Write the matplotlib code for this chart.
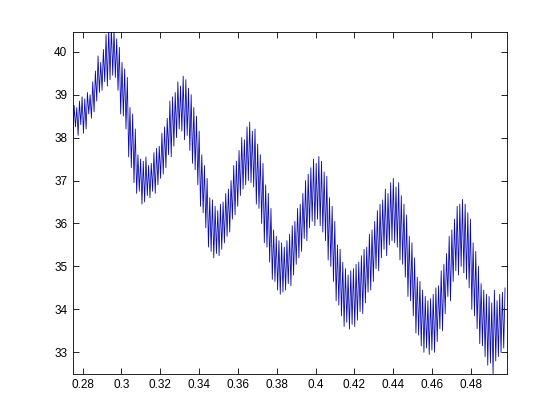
import numpy as np
import matplotlib
matplotlib.use('Agg')
import matplotlib.pyplot as plt
from matplotlib.ticker import FormatStrFormatter

t_start = 0.275
t_step = 0.0006846
pairs = [
    (38.00, 38.75), (38.25, 38.70), (38.05, 38.85),
    (38.30, 38.95), (38.10, 38.90), (38.20, 39.05),
    (38.55, 39.00), (38.45, 39.30), (38.60, 39.55),
    (38.85, 39.90), (39.05, 39.75), (39.10, 40.05),
    (39.30, 40.40), (39.20, 40.55), (39.35, 40.60),
    (39.45, 40.50), (39.40, 40.30), (39.10, 40.10),
    (38.55, 39.75), (38.50, 39.60), (38.20, 39.40),
    (37.55, 38.70), (37.30, 38.55), (36.95, 38.20),
    (36.70, 37.60), (36.75, 37.50), (36.45, 37.45),
    (36.50, 37.55), (36.65, 37.35), (36.60, 37.40),
    (36.75, 37.65), (36.70, 37.75), (36.90, 37.80),
    (37.05, 38.10), (37.15, 38.25), (37.30, 38.45),
    (37.60, 38.85), (37.55, 38.95), (37.80, 39.05),
    (38.00, 39.30), (38.20, 39.20), (38.15, 39.43),
    (37.95, 39.35), (38.05, 39.15), (37.70, 39.00),
    (37.40, 38.70), (37.25, 38.50), (36.90, 38.15),
    (36.40, 37.60), (36.25, 37.35), (35.90, 37.05),
    (35.45, 36.60), (35.35, 36.55), (35.20, 36.40),
    (35.30, 36.30), (35.25, 36.45), (35.40, 36.50),
    (35.55, 36.70), (35.70, 36.80), (35.80, 37.00),
    (36.10, 37.35), (36.20, 37.45), (36.40, 37.70),
    (36.65, 38.00), (36.80, 37.95), (36.90, 38.25),
    (37.00, 38.36), (36.95, 38.15), (36.85, 38.20),
    (36.45, 37.85), (36.35, 37.60), (36.00, 37.40),
    (35.55, 36.90), (35.45, 36.70), (35.10, 36.35),
    (34.70, 35.85), (34.65, 35.70), (34.45, 35.60),
    (34.35, 35.55), (34.40, 35.45), (34.45, 35.60),
    (34.60, 35.75), (34.55, 35.95), (34.80, 36.05),
    (35.05, 36.35), (35.20, 36.45), (35.35, 36.70),
    (35.65, 37.00), (35.60, 37.15), (35.90, 37.30),
    (36.05, 37.50), (35.95, 37.40), (36.10, 37.56),
    (35.95, 37.45), (35.80, 37.20), (35.60, 37.10),
    (35.15, 36.60), (35.00, 36.40), (34.65, 36.05),
    (34.20, 35.50), (34.10, 35.40), (33.85, 35.10),
    (33.60, 34.95), (33.70, 34.80), (33.54, 34.90),
    (33.65, 34.95), (33.60, 35.05), (33.75, 35.10),
    (33.95, 35.25), (33.90, 35.40), (34.15, 35.45),
    (34.40, 35.75), (34.45, 35.85), (34.65, 36.05),
    (34.95, 36.30), (34.90, 36.45), (35.20, 36.55),
    (35.40, 36.80), (35.25, 36.70), (35.50, 36.95),
    (35.60, 37.05), (35.55, 36.85), (35.45, 36.95),
    (35.15, 36.65), (35.05, 36.45), (34.75, 36.20),
    (34.30, 35.70), (34.20, 35.55), (33.85, 35.20),
    (33.45, 34.75), (33.40, 34.65), (33.15, 34.45),
    (33.00, 34.30), (33.10, 34.20), (32.95, 34.25),
    (33.05, 34.35), (33.00, 34.50), (33.25, 34.55),
    (33.55, 34.90), (33.50, 35.05), (33.90, 35.30),
    (34.30, 35.70), (34.20, 35.85), (34.65, 36.10),
    (34.90, 36.40), (34.80, 36.45), (35.00, 36.56),
    (34.85, 36.45), (34.70, 36.25), (34.50, 36.10),
    (34.00, 35.55), (33.85, 35.35), (33.55, 35.00),
    (33.20, 34.60), (33.15, 34.45), (32.90, 34.35),
    (32.70, 34.30), (32.75, 34.15), (32.50, 34.45),
    (32.80, 34.20), (32.90, 34.35), (33.00, 34.40),
    (33.10, 34.50),
]

y = np.array(pairs).ravel()
t = t_start + t_step * np.arange(len(y))

plt.rcParams['font.family'] = ['Liberation Sans', 'DejaVu Sans']
fig = plt.figure(figsize=(5.6, 4.2), dpi=100)
ax = fig.add_axes([0.13, 0.11, 0.775, 0.815])
ax.plot(t, y, color='#0a0ab4', linewidth=0.6)

ax.set_xlim(0.275, 0.4984)
ax.set_ylim(32.5, 40.47)
ax.set_xticks([0.28, 0.30, 0.32, 0.34, 0.36, 0.38, 0.40, 0.42, 0.44, 0.46, 0.48])
ax.set_yticks([33, 34, 35, 36, 37, 38, 39, 40])
ax.xaxis.set_major_formatter(FormatStrFormatter('%g'))
ax.yaxis.set_major_formatter(FormatStrFormatter('%g'))
ax.tick_params(direction='in', length=4, width=0.6, top=True, right=True,
               labelsize=8.5, pad=4)
for s in ax.spines.values():
    s.set_linewidth(0.6)

fig.savefig('out.png', dpi=100, facecolor='white')
